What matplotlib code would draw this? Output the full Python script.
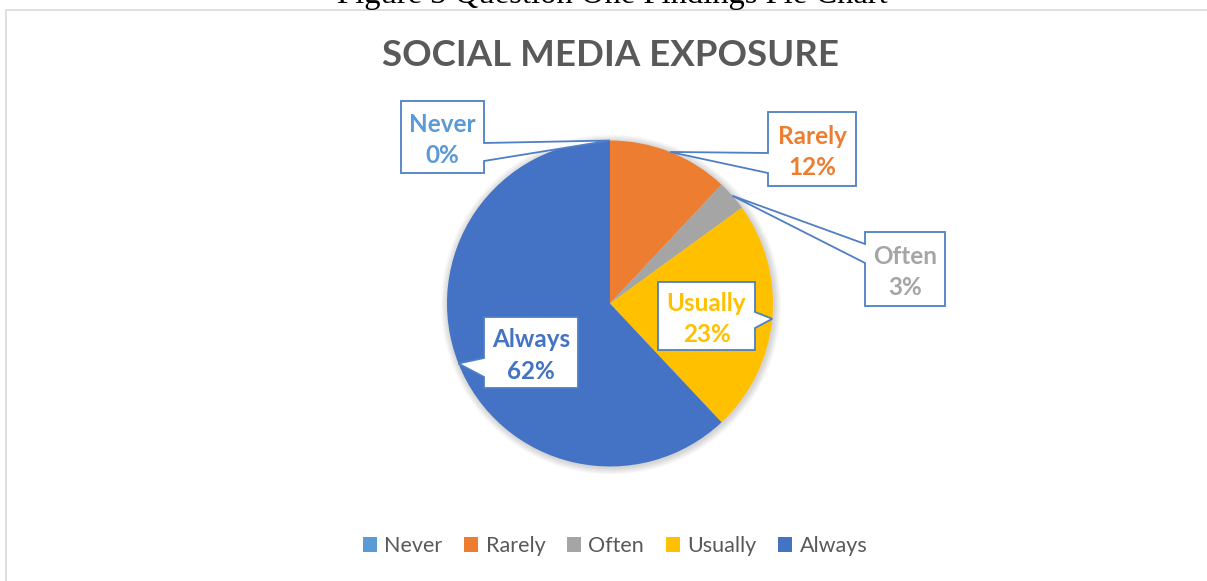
import numpy as np
import matplotlib.pyplot as plt
from matplotlib.patches import Polygon, Circle

# ---- data ----
categories = ["Never", "Rarely", "Often", "Usually", "Always"]
shares = [0, 12, 3, 23, 62]
colors = ["#5B9BD5", "#ED7D31", "#A5A5A5", "#FFC000", "#4472C4"]

W, H = 1207, 581
fig = plt.figure(figsize=(W / 100, H / 100), dpi=100)
ax = fig.add_axes([0, 0, 1, 1])


def py(y):
    """Convert a top-down pixel row into axes y."""
    return H - y


cx, cy, r = 610, py(303.5), 163

# soft shadow around the pie
for k in range(7):
    ax.add_patch(Circle((cx + 1, cy - 1), r + 7 - k, color="black",
                        alpha=0.025, lw=0, zorder=1))

wedges, _ = ax.pie(shares, colors=colors, startangle=90, counterclock=False,
                   center=(cx, cy), radius=r,
                   wedgeprops=dict(linewidth=0, zorder=2))

ax.set_xlim(0, W)
ax.set_ylim(0, H)
ax.set_aspect("equal")
ax.axis("off")

# chart area frame
ax.plot([5.5, 5.5, W + 5], [py(H + 5), py(9.5), py(9.5)],
        color="#D9D9D9", lw=1.2, zorder=0)

# callout layout: box (left, top, right, bottom), side of pointer, pointer base rows
callouts = {
    "Never":   ((401, 101, 484, 173), "right", (143, 161)),
    "Rarely":  ((768, 112, 856, 186), "left", (153, 173)),
    "Often":   ((865, 232, 945, 306), "left", (244, 263)),
    "Usually": ((658, 282, 755, 350), "right", (312, 328)),
    "Always":  ((484, 317, 578, 388), "left", (358, 377)),
}

for wedge, cat, val, col in zip(wedges, categories, shares, colors):
    mid = np.deg2rad((wedge.theta1 + wedge.theta2) / 2)
    tip = (cx + r * np.cos(mid), cy + r * np.sin(mid))
    (x0, y0, x1, y1), side, (b0, b1) = callouts[cat]
    if side == "right":
        pts = [(x0, py(y0)), (x1, py(y0)), (x1, py(b0)), tip,
               (x1, py(b1)), (x1, py(y1)), (x0, py(y1))]
    else:
        pts = [(x0, py(y0)), (x1, py(y0)), (x1, py(y1)), (x0, py(y1)),
               (x0, py(b1)), tip, (x0, py(b0))]
    ax.add_patch(Polygon(pts, closed=True, facecolor="white",
                         edgecolor="#4F7FC4", lw=1.3, zorder=5))
    ax.text((x0 + x1) / 2, py((y0 + y1) / 2 + 3), f"{cat}\n{val:.0f}%",
            ha="center", va="center", color=col, fontsize=17.5,
            fontweight="bold", family="Lato", linespacing=1.45, zorder=6)

# titles
fig.text(612 / W, 1 - 3 / H, "Figure 3 Question One Findings Pie Chart",
         ha="center", va="baseline", family="Liberation Serif",
         fontsize=23.5, color="black")
fig.text(610 / W, 1 - 56 / H, "SOCIAL MEDIA EXPOSURE", ha="center",
         va="center", family="Lato", fontweight="bold", fontsize=26.4,
         color="#595959")

# legend
leg = fig.legend(wedges, categories, loc="center", ncol=5,
                 bbox_to_anchor=(615 / W, 1 - 546 / H), frameon=False,
                 prop=dict(family="Lato", size=15.5),
                 handlelength=0.65, handleheight=0.65, handletextpad=0.35,
                 columnspacing=1.0, labelcolor="#595959")

fig.savefig("out.png", dpi=100, facecolor="white")
